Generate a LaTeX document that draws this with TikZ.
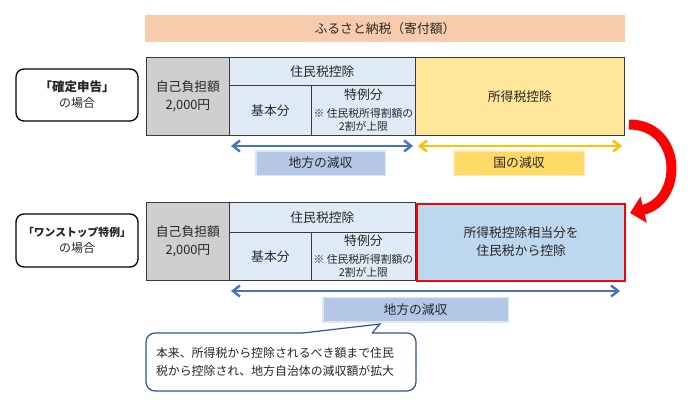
\documentclass[tikz,border=0pt]{standalone}
\usepackage{fontspec}
\setmainfont{Noto Sans CJK JP}
\usetikzlibrary{arrows.meta}
\definecolor{txtc}{HTML}{262626}
\definecolor{orangebar}{HTML}{F8CBAD}
\definecolor{grayc}{HTML}{D0CECE}
\definecolor{lblue}{HTML}{DEEBF7}
\definecolor{yel}{HTML}{FFE699}
\definecolor{mblue}{HTML}{BDD7EE}
\definecolor{arrblue}{HTML}{4472C4}
\definecolor{arryel}{HTML}{FFC000}
\definecolor{labblue}{HTML}{B4C7E7}
\definecolor{labyel}{HTML}{FFD966}
\definecolor{tabline}{HTML}{3A3A3A}
\definecolor{redc}{HTML}{FF0000}
\definecolor{callb}{HTML}{2F5597}
\newcommand{\bigfs}{\fontsize{12.8}{13}\selectfont}
\begin{document}
\begin{tikzpicture}[x=1pt,y=-1pt,
  base/.style={text=txtc, font=\fontsize{12.8}{18}\selectfont, inner sep=0pt, align=center},
  cell/.style={base, draw=tabline, line width=0.8pt, anchor=north west},
  tokurei/.style={cell, font=\fontsize{10.8}{13.5}\selectfont},
  casebox/.style={base, draw=black, line width=1.3pt, rounded corners=8pt, font=\fontsize{12}{16}\selectfont},
  lab/.style={base, minimum height=23pt, fill=#1, draw=#1, draw opacity=0.45, line width=3pt},
  dblarrow/.style={draw=#1, line width=2.4pt, {Straight Barb[length=7pt,width=11pt]}-{Straight Barb[length=7pt,width=11pt]}}
]
\useasboundingbox (0,0) rectangle (700,404);

% top bar
\node[base, fill=orangebar, minimum width=480pt, minimum height=27pt] (bar) at (385,28.5) {ふるさと納税（寄付額）};

% case labels
\node[casebox, minimum width=122pt, minimum height=52pt] (c1) at (77,95) {\fontsize{12.5}{16}\selectfont\textbf{「確定申告」}\\\fontsize{12}{16}\selectfont の場合};
\node[casebox, minimum width=122pt, minimum height=53pt] (c2) at (77,240.5) {\fontsize{10.8}{16}\selectfont\textbf{「ワンストップ特例」}\\\fontsize{12}{16}\selectfont の場合};

% table 1
\node[cell, fill=grayc, minimum width=83pt, minimum height=78pt] (g1) at (146,57) {自己負担額\\2,000円};
\node[cell, fill=lblue, minimum width=186pt, minimum height=28pt] (h1) at (229,57) {住民税控除};
\node[cell, fill=lblue, minimum width=82pt, minimum height=50pt] (k1) at (229,85) {基本分};
\node[tokurei, fill=lblue, minimum width=104pt, minimum height=50pt] (t1) at (311,85) {{\bigfs 特例分}\\[4pt]※ 住民税所得割額の\\2割が上限};
\node[cell, fill=yel, minimum width=209pt, minimum height=78pt] (y1) at (415,57) {所得税控除};

% table 2
\node[cell, fill=grayc, minimum width=83pt, minimum height=78pt] (g2) at (146,202) {自己負担額\\2,000円};
\node[cell, fill=lblue, minimum width=186pt, minimum height=30pt] (h2) at (229,202) {住民税控除};
\node[cell, fill=lblue, minimum width=82pt, minimum height=48pt] (k2) at (229,232) {基本分};
\node[tokurei, fill=lblue, minimum width=104pt, minimum height=48pt] (t2) at (311,232) {{\bigfs 特例分}\\[4pt]※ 住民税所得割額の\\2割が上限};
\node[cell, fill=mblue, draw=redc, line width=2.2pt, minimum width=208pt, minimum height=77pt] (r2) at (416,202.5) {所得税控除相当分を\\住民税から控除};

% arrows row 1
\coordinate (a1l) at (231,146);
\coordinate (a1r) at (413,146);
\coordinate (b1l) at (418,146);
\coordinate (b1r) at (622,146);
\draw[dblarrow=arrblue] (a1l) -- (a1r);
\draw[dblarrow=arryel] (b1l) -- (b1r);
\node[lab=labblue, minimum width=128pt] (l1) at (320.5,163) {地方の減収};
\node[lab=labyel, minimum width=129pt] (l2) at (519,163) {国の減収};

% arrow row 2
\coordinate (a2l) at (231,291);
\coordinate (a2r) at (620,291);
\draw[dblarrow=arrblue] (a2l) -- (a2r);
\node[lab=labblue, minimum width=184pt] (l3) at (415.5,309.5) {地方の減収};

% red curved arrow
\coordinate (ra) at (629,124.5);
\coordinate (rb) at (630,213);
\draw[redc, line width=10pt, -{Triangle[length=14pt,width=26pt]}] (ra) .. controls (682,124.5) and (684,200) .. (rb);

% callout
\node[base, draw=callb, line width=1.2pt, rounded corners=9pt, fill=white, minimum width=270pt, minimum height=58pt,
      text width=250pt, align=left, inner xsep=10pt, font=\fontsize{11.9}{17.5}\selectfont] (co) at (281,362)
      {本来、所得税から控除されるべき額まで住民\\税から控除され、地方自治体の減収額が拡大};
\coordinate (ptip) at (380,324);
\coordinate (pl) at (303,333);
\coordinate (pr) at (372,333);
\fill[white] (pl) -- (ptip) -- (pr) -- (372,335) -- (303,335) -- cycle;
\draw[callb, line width=1.2pt, line join=miter] (pl) -- (ptip) -- (pr);
\end{tikzpicture}
\end{document}
